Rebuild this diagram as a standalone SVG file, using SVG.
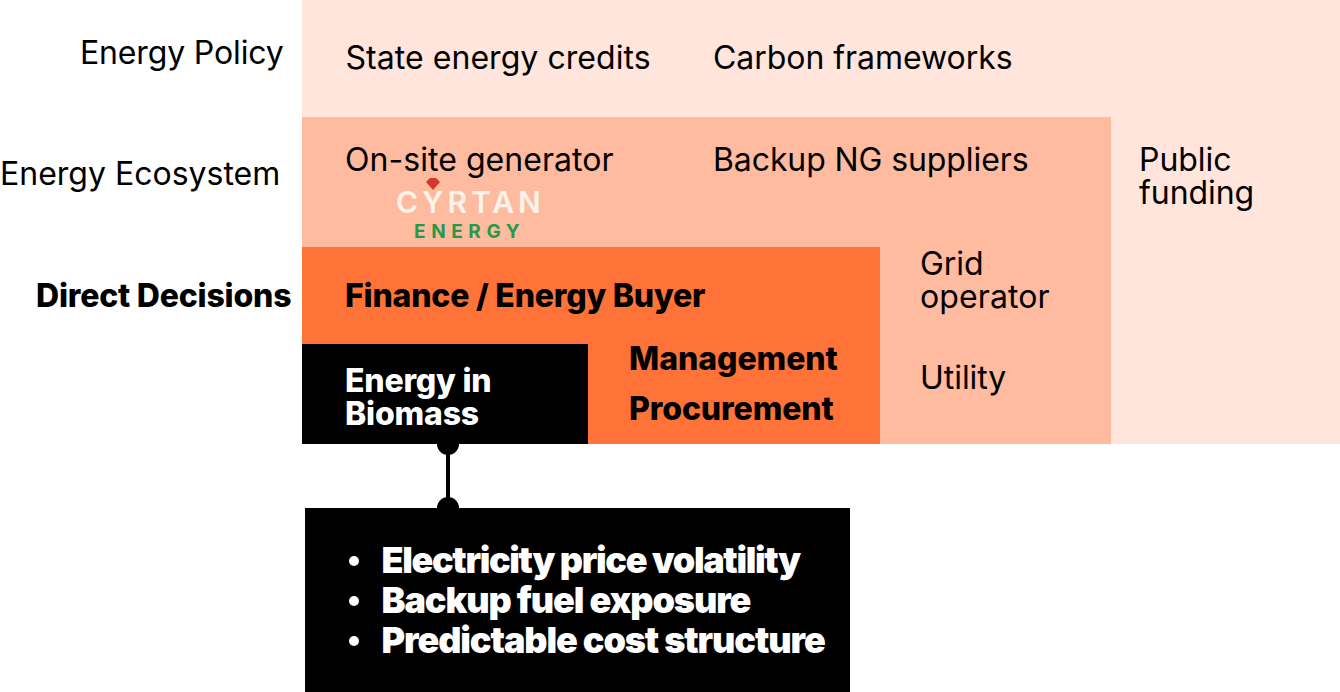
<svg xmlns="http://www.w3.org/2000/svg" width="1340" height="692" viewBox="0 0 1340 692">
<style>
text{font-family:Inter,"Liberation Sans",sans-serif;font-size:32px;fill:#000;letter-spacing:-0.05px}
.b{font-weight:800;letter-spacing:-0.2px}
.w{fill:#fff}
.o{font-size:36px;font-weight:900;letter-spacing:-1.1px}
</style>
<rect width="1340" height="692" fill="#fff"/>
<g id="policy"><rect x="302" y="0" width="1038" height="444" fill="#ffe5db"/>
<text x="80" y="64" style="letter-spacing:-0.15px">Energy Policy</text><text x="345.500" y="69" style="letter-spacing:0.05px">State energy credits</text><text x="713" y="69">Carbon frameworks</text><text x="1139" y="171">Public</text><text x="1139" y="204">funding</text></g>
<g id="ecosystem"><rect x="302" y="117" width="809" height="327" fill="#ffbb9f"/>
<text x="0" y="185" style="letter-spacing:0px">Energy Ecosystem</text><text x="345" y="171" style="letter-spacing:0.05px">On-site generator</text><text x="713" y="171" style="letter-spacing:-0.1px">Backup NG suppliers</text><text x="920" y="275">Grid</text><text x="920" y="308" style="letter-spacing:0.1px">operator</text><text x="920" y="389">Utility</text></g>
<g id="logo"><path d="M426 182l4-4h6l4 4-7 8z" fill="#d0392b"/><text x="396" y="213" style="font-size:30px;letter-spacing:4px;font-weight:600;fill:#fbf3ea">CYRTAN</text><text x="414" y="238" style="font-size:19px;letter-spacing:5.6px;font-weight:700;fill:#259a48">ENERGY</text></g>
<g id="direct"><rect x="302" y="247" width="578" height="197" fill="#ff7338"/>
<text x="36" y="306.500" class="b">Direct Decisions</text><text x="345" y="306.500" class="b">Finance / Energy Buyer</text><text x="629" y="370" class="b" style="letter-spacing:-0.05px">Management</text><text x="629" y="420" class="b" style="letter-spacing:-0.1px">Procurement</text></g>
<g id="biomass"><rect x="302" y="344" width="286" height="100" fill="#000"/><text x="345" y="392" class="b w">Energy in</text><text x="345" y="425" class="b w">Biomass</text></g>
<g id="connectors"><line x1="448" y1="444" x2="448" y2="508" stroke="#000" stroke-width="4"/><circle cx="448" cy="444" r="11" fill="#000"/><circle cx="448" cy="508" r="11" fill="#000"/></g>
<g id="outcomes"><rect x="305" y="508" width="545" height="184" fill="#000"/>
<circle cx="354" cy="561" r="5" fill="#fff"/><circle cx="354" cy="601" r="5" fill="#fff"/><circle cx="354" cy="641" r="5" fill="#fff"/>
<text x="381.500" y="573" class="o w" style="letter-spacing:-1.35px">Electricity price volatility</text><text x="381.500" y="613" class="o w">Backup fuel exposure</text><text x="381.500" y="653" class="o w">Predictable cost structure</text></g>
</svg>
